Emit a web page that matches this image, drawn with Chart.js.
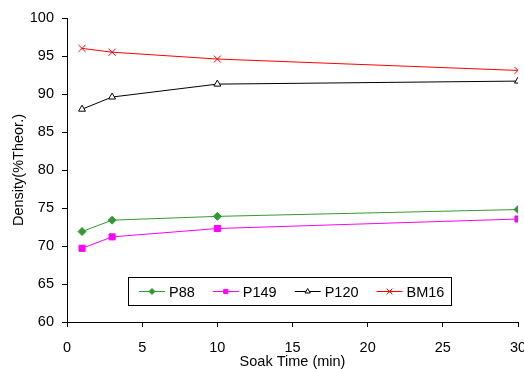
<!DOCTYPE html>
<html>
<head>
<meta charset="utf-8">
<script src="https://cdn.jsdelivr.net/npm/chart.js@4.4.0/dist/chart.umd.min.js"></script>
<style>
  html, body { margin: 0; padding: 0; background: #fff; }
  #wrap { width: 524px; height: 369px; }
</style>
</head>
<body>
<div id="wrap"><canvas id="chart"></canvas></div>
<script>
// data
const soakTimes = [1, 3, 10, 30];
const p88  = [71.9, 73.4, 73.9, 74.8];
const p149 = [69.7, 71.2, 72.3, 73.55];
const p120 = [88.0, 89.6, 91.3, 91.7];
const bm16 = [96.0, 95.5, 94.6, 93.1];
const seriesNames = ['P88', 'P149', 'P120', 'BM16'];

const FONT = 'Arial, "Liberation Sans", sans-serif';
Chart.defaults.font.family = FONT;
Chart.defaults.font.size = 14;
Chart.defaults.color = '#000';

const pts = ys => ys.map((y, i) => ({ x: soakTimes[i], y }));

function series(label, ys, color, style, fill, radius){
  return {
    label, data: pts(ys),
    borderColor: color, borderWidth: 1,
    pointStyle: style, pointRadius: radius, pointHoverRadius: radius,
    pointBackgroundColor: fill, pointBorderColor: color, pointBorderWidth: 1,
    tension: 0, fill: false
  };
}

// legend drawn as a box inside the plot, like the original
const boxLegend = {
  id: 'boxLegend',
  afterDraw(chart){
    const ctx = chart.ctx;
    const bx = 128.5, by = 277.5, bw = 323, bh = 28;
    ctx.save();
    ctx.fillStyle = '#fff';
    ctx.fillRect(bx, by, bw, bh);
    ctx.strokeStyle = '#000';
    ctx.lineWidth = 1;
    ctx.strokeRect(bx, by, bw, bh);
    ctx.font = '14.5px ' + FONT;
    ctx.textBaseline = 'middle';
    ctx.textAlign = 'left';
    const cy = by + bh / 2;
    let x = bx + 10.5;
    chart.data.datasets.forEach(ds => {
      ctx.strokeStyle = ds.borderColor;
      ctx.lineWidth = 1;
      ctx.beginPath();
      ctx.moveTo(x, cy);
      ctx.lineTo(x + 26, cy);
      ctx.stroke();
      ctx.fillStyle = ds.pointBackgroundColor;
      ctx.strokeStyle = ds.pointBorderColor;
      const r = ds.pointStyle === 'crossRot' ? 4 : 3;
      Chart.helpers.drawPoint(ctx, { pointStyle: ds.pointStyle, radius: r, borderWidth: 1, rotation: 0 }, x + 13, cy);
      ctx.fillStyle = '#000';
      ctx.fillText(ds.label, x + 30, cy + 1);
      x += 30 + ctx.measureText(ds.label).width + 18;
    });
    ctx.restore();
  }
};

const axisGrid = { drawOnChartArea: false, drawTicks: true, tickLength: 5, color: '#000', lineWidth: 1 };

new Chart(document.getElementById('chart'), {
  type: 'line',
  data: {
    datasets: [
      series(seriesNames[0], p88, '#339933', 'rectRot', '#339933', 4),
      series(seriesNames[1], p149, '#ff00ff', 'rect', '#ff00ff', 4.3),
      series(seriesNames[2], p120, '#000000', 'triangle', '#ffffff', 4),
      series(seriesNames[3], bm16, '#ff0000', 'crossRot', '#ff0000', 5)
    ]
  },
  options: {
    responsive: true,
    maintainAspectRatio: false,
    animation: false,
    layout: { padding: { top: 18, right: 6, left: 0, bottom: 0 } },
    plugins: { legend: { display: false }, tooltip: { enabled: false } },
    scales: {
      x: {
        type: 'linear', min: 0, max: 30,
        ticks: { stepSize: 5, padding: 12, maxRotation: 0, font: { size: 14.5 } },
        grid: axisGrid,
        border: { display: true, color: '#000', width: 1 },
        title: { display: true, text: 'Soak Time (min)', font: { size: 14.5 }, padding: { top: 0, bottom: -2 } },
        afterFit: s => { s.height = 47; s.paddingRight = 0; }
      },
      y: {
        min: 60, max: 100,
        ticks: { stepSize: 5, padding: 8, font: { size: 14.5 } },
        grid: axisGrid,
        border: { display: true, color: '#000', width: 1 },
        title: { display: true, text: 'Density(%Theor.)', font: { size: 14.5 }, padding: 10 },
        afterFit: s => { s.width = 67; }
      }
    }
  },
  plugins: [boxLegend]
});
</script>
</body>
</html>
